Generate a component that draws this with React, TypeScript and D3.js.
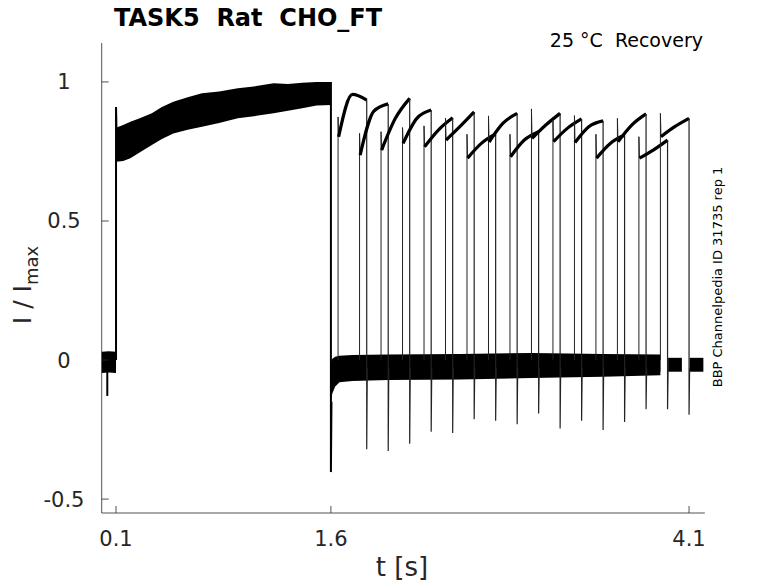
import * as d3 from "d3";

const W = 778;
const H = 583;

// voltage protocol [s]
const stepOn = 0.1;
const stepOff = 1.6;
const pulseStart = [1.65, 1.8, 1.95, 2.1, 2.25, 2.4, 2.55, 2.7, 2.85, 3.0, 3.15, 3.3, 3.45, 3.6, 3.75, 3.9];
const pulseLen = 0.2;
const tailLen = 0.1;

// recovery pulses, I / Imax
const pulsePeak = [0.874, 0.815, 0.821, 0.836, 0.842, 0.87, 0.812, 0.878, 0.812, 0.903, 0.863, 0.879, 0.812, 0.869, 0.803, 0.887];
const pulseFirst = [0.803, 0.737, 0.755, 0.779, 0.767, 0.791, 0.726, 0.784, 0.731, 0.797, 0.785, 0.782, 0.726, 0.785, 0.726, 0.803];
const pulseMid = [0.955, 0.895, 0.869, 0.869, 0.827, 0.839, 0.779, 0.851, 0.791, 0.845, 0.833, 0.839, 0.779, 0.845, 0.755, 0.839];
const pulseLast = [0.935, 0.921, 0.941, 0.899, 0.871, 0.892, 0.813, 0.887, 0.821, 0.887, 0.867, 0.86, 0.809, 0.885, 0.791, 0.869];
const tailSpike = [-0.321, -0.327, -0.301, -0.258, -0.262, -0.213, -0.218, -0.231, -0.192, -0.246, -0.218, -0.252, -0.223, -0.177, -0.177, -0.197];

// holding current before the step
const preT = [0, 0.05, 0.1];
const preHi = [0.03, 0.032, 0.03];
const preLo = [-0.047, -0.045, -0.047];
const preSpikeT = 0.039;
const preSpike = -0.129;

// conditioning step band
const stepT = [0.1, 0.15, 0.2, 0.27, 0.35, 0.42, 0.5, 0.6, 0.7, 0.82, 0.95, 1.08, 1.2, 1.3, 1.4, 1.5, 1.6];
const stepHi = [0.835, 0.845, 0.857, 0.87, 0.887, 0.91, 0.929, 0.945, 0.959, 0.966, 0.977, 0.985, 0.995, 0.993, 0.997, 1.0, 1.0];
const stepLo = [0.713, 0.716, 0.726, 0.748, 0.773, 0.795, 0.815, 0.828, 0.839, 0.852, 0.869, 0.878, 0.887, 0.896, 0.905, 0.915, 0.917];
const stepOnPeak = 0.91;
const stepOffPeak = -0.403;

// interpulse rest band
const restT = [1.6, 1.61, 1.63, 1.66, 1.75, 2.0, 2.5, 3.0, 3.5, 3.9];
const restHi = [-0.01, 0.005, 0.012, 0.015, 0.018, 0.02, 0.022, 0.025, 0.022, 0.02];
const restLo = [-0.15, -0.12, -0.095, -0.08, -0.075, -0.072, -0.07, -0.065, -0.06, -0.055];
const tailHi = 0.008;
const tailLo = -0.042;

const xTicks = [0.1, 1.6, 4.1];
const yTicks = [-0.5, 0, 0.5, 1];

const font = "DejaVu Sans, sans-serif";
const axisColor = "#262626";

export default function App() {
  const x = d3.scaleLinear().domain([0, 4.21]).range([101.7, 704.8]);
  const y = d3.scaleLinear().domain([-0.55, 1.14]).range([513, 43]);

  const band = (t: number[], hi: number[], lo: number[]) =>
    d3
      .area<number>()
      .x((_, i) => x(t[i]))
      .y0((_, i) => y(lo[i]))
      .y1((_, i) => y(hi[i]))(t) ?? "";

  const line = d3.line<[number, number]>().x((d) => x(d[0])).y((d) => y(d[1]));
  const segLine = d3
    .line<[number, number]>()
    .x((d) => x(d[0]))
    .y((d) => y(d[1]))
    .curve(d3.curveMonotoneX);

  const x0 = x.range()[0];
  const x1 = x.range()[1];
  const yb = y.range()[0];
  const yt = y.range()[1];

  return (
    <svg width={W} height={H} style={{ position: "absolute", left: 0, top: 0, background: "#fff" }}>
      <rect width={W} height={H} fill="#fff" />

      {/* bands */}
      <path d={band(preT, preHi, preLo)} fill="#000" />
      <path d={band(stepT, stepHi, stepLo)} fill="#000" />
      <path d={band(restT, restHi, restLo)} fill="#000" />
      {pulseStart.map((s, i) => {
        const e = s + pulseLen;
        return (
          <path
            key={"tb" + i}
            d={band([e + 0.004, e + tailLen], [tailHi, tailHi], [tailLo, tailLo])}
            fill="#000"
          />
        );
      })}

      {/* step edges */}
      <path d={line([[preSpikeT, 0], [preSpikeT, preSpike]]) ?? ""} stroke="#000" strokeWidth={2} />
      <path
        d={line([[stepOn, 0], [stepOn, stepOnPeak], [stepOn + 0.003, stepHi[0]]]) ?? ""}
        stroke="#000"
        strokeWidth={2}
        fill="none"
      />
      <path
        d={line([[stepOff, stepHi[stepHi.length - 1]], [stepOff, stepOffPeak], [stepOff + 0.004, restLo[0]]]) ?? ""}
        stroke="#000"
        strokeWidth={2}
        fill="none"
      />

      {/* recovery pulses */}
      {pulseStart.map((s, i) => {
        const e = s + pulseLen;
        return (
          <g key={"p" + i}>
            <path
              d={line([[s, 0], [s, pulsePeak[i]], [s + 0.004, pulseFirst[i]]]) ?? ""}
              stroke="#222"
              strokeWidth={1}
              fill="none"
            />
            <path
              d={segLine([[s + 0.004, pulseFirst[i]], [s + pulseLen / 2, pulseMid[i]], [e, pulseLast[i]]]) ?? ""}
              stroke="#000"
              strokeWidth={3.2}
              fill="none"
            />
            <path
              d={line([[e, pulseLast[i]], [e, tailSpike[i]], [e + 0.004, -0.03]]) ?? ""}
              stroke="#222"
              strokeWidth={1.2}
              fill="none"
            />
          </g>
        );
      })}

      {/* axes */}
      <line x1={x0} x2={x0} y1={yt} y2={yb} stroke={axisColor} strokeWidth={0.8} />
      <line x1={x0} x2={x1} y1={yb} y2={yb} stroke={axisColor} strokeWidth={0.8} />
      {yTicks.map((v) => (
        <g key={"yt" + v}>
          <line x1={x0} x2={x0 + 7} y1={y(v)} y2={y(v)} stroke={axisColor} strokeWidth={0.8} />
          <text x={64} y={y(v) + 7.5} fontFamily={font} fontSize={21} textAnchor="middle" fill={axisColor}>
            {v}
          </text>
        </g>
      ))}
      {xTicks.map((v) => (
        <g key={"xt" + v}>
          <line x1={x(v)} x2={x(v)} y1={yb} y2={yb - 7} stroke={axisColor} strokeWidth={0.8} />
          <text x={x(v)} y={546} fontFamily={font} fontSize={21} textAnchor="middle" fill={axisColor}>
            {v}
          </text>
        </g>
      ))}

      {/* labels */}
      <text x={402} y={576} fontFamily={font} fontSize={26} textAnchor="middle" fill={axisColor}>
        t [s]
      </text>
      <text transform="translate(31,285) rotate(-90)" fontFamily={font} fontSize={25} textAnchor="middle" fill={axisColor}>
        I / I<tspan dy={7} fontSize={18}>max</tspan>
      </text>
      <text x={114} y={26} fontFamily={font} fontSize={24} fontWeight="bold" fill="#000">
        TASK5{"\u00a0\u00a0"}Rat{"\u00a0\u00a0"}CHO_FT
      </text>
      <text x={703} y={47} fontFamily={font} fontSize={19} textAnchor="end" fill="#000">
        25 °C{"\u00a0\u00a0"}Recovery
      </text>
      <text transform="translate(722,277) rotate(-90)" fontFamily={font} fontSize={13} textAnchor="middle" fill="#000">
        BBP Channelpedia ID 31735 rep 1
      </text>
    </svg>
  );
}
